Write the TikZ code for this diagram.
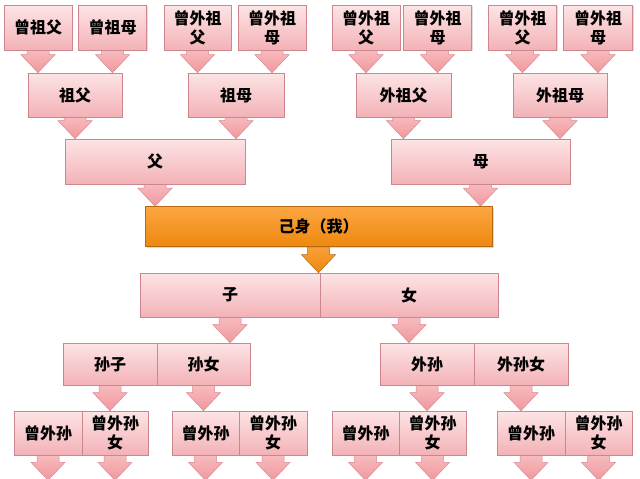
\documentclass[tikz,border=0pt]{standalone}
\usepackage{fontspec}
\setmainfont{Noto Sans CJK SC}
\usetikzlibrary{calc,shadows}
\definecolor{pinktop}{HTML}{FDE4E5}
\definecolor{pinkbot}{HTML}{F3B2B7}
\definecolor{boxline}{HTML}{CD868D}
\definecolor{arrtop}{HTML}{F9C4C6}
\definecolor{arrbot}{HTML}{F0979D}
\definecolor{arrline}{HTML}{DA8A91}
\definecolor{orgtop}{HTML}{FBA642}
\definecolor{orgbot}{HTML}{EE880F}
\definecolor{orgline}{HTML}{B8680F}
\pgfdeclarelayer{bg}
\pgfdeclarelayer{arr}
\pgfsetlayers{bg,arr,main}
\tikzset{
  box/.style={draw=boxline, line width=0.6pt, top color=pinktop, bottom color=pinkbot,
    inner sep=0pt, align=center, font=\fontsize{16}{19}\selectfont\bfseries,
    drop shadow={shadow xshift=1.2pt, shadow yshift=-1.2pt, opacity=0.25}},
  selfbox/.style={draw=orgline, line width=0.6pt, top color=orgtop, bottom color=orgbot,
    inner sep=0pt, align=center, font=\fontsize{16}{19}\selectfont\bfseries,
    drop shadow={shadow xshift=1.5pt, shadow yshift=-1.5pt, opacity=0.3}},
  pinkarrow/.style={draw=arrline, line width=0.5pt, top color=arrtop, bottom color=arrbot},
  orgarrow/.style={draw=orgline, line width=0.5pt, top color=orgtop, bottom color=orgbot},
}
\newcommand\barrow[3]{%
  \path[#3] let \p1=(#1.south), \p2=(#2) in
    (\x1-11pt,\y1+6pt) -- (\x1-11pt,\y2+18pt) -- (\x1-17pt,\y2+18pt) -- (\x1,\y2)
    -- (\x1+17pt,\y2+18pt) -- (\x1+11pt,\y2+18pt) -- (\x1+11pt,\y1+6pt) -- cycle;}
\begin{document}
\begin{tikzpicture}[x=1pt,y=-1pt]
\begin{pgfonlayer}{bg}
\fill[white] (0,0) rectangle (640,479);
\end{pgfonlayer}
\useasboundingbox (0,0) rectangle (640,479);
% row 1
\node[box, minimum width=68pt, minimum height=45pt] (g1) at (38,27.5) {曾祖父};
\node[box, minimum width=68pt, minimum height=45pt] (g2) at (112.5,27.5) {曾祖母};
\node[box, minimum width=67pt, minimum height=45pt] (g3) at (197.5,27.5) {曾外祖\\父};
\node[box, minimum width=68pt, minimum height=45pt] (g4) at (272,27.5) {曾外祖\\母};
\node[box, minimum width=68pt, minimum height=45pt] (g5) at (366,27.5) {曾外祖\\父};
\node[box, minimum width=68pt, minimum height=45pt] (g6) at (437.5,27.5) {曾外祖\\母};
\node[box, minimum width=68pt, minimum height=45pt] (g7) at (522.5,27.5) {曾外祖\\父};
\node[box, minimum width=69pt, minimum height=45pt] (g8) at (598,27.5) {曾外祖\\母};
% row 2
\node[box, minimum width=94pt, minimum height=44pt] (p1) at (75,95) {祖父};
\node[box, minimum width=96pt, minimum height=44pt] (p2) at (236,95) {祖母};
\node[box, minimum width=95pt, minimum height=44pt] (p3) at (403.5,95) {外祖父};
\node[box, minimum width=94pt, minimum height=44pt] (p4) at (560,95) {外祖母};
% row 3
\node[box, minimum width=180pt, minimum height=45pt] (f) at (155,161.5) {父};
\node[box, minimum width=179pt, minimum height=45pt] (m) at (480.5,161.5) {母};
% self
\node[selfbox, minimum width=347pt, minimum height=40pt] (self) at (318.5,226.5) {己身（我）};
% children
\node[box, minimum width=180pt, minimum height=44pt] (c1) at (230,295) {子};
\node[box, minimum width=178pt, minimum height=44pt] (c2) at (409,295) {女};
% grandchildren
\node[box, minimum width=94pt, minimum height=42pt] (k1) at (110,364) {孙子};
\node[box, minimum width=93pt, minimum height=42pt] (k2) at (203.5,364) {孙女};
\node[box, minimum width=94pt, minimum height=42pt] (k3) at (427,364) {外孙};
\node[box, minimum width=94pt, minimum height=42pt] (k4) at (521,364) {外孙女};
% great-grandchildren
\node[box, minimum width=68pt, minimum height=44pt] (b1) at (48,433) {曾外孙};
\node[box, minimum width=66pt, minimum height=44pt] (b2) at (115,433) {曾外孙\\女};
\node[box, minimum width=67pt, minimum height=44pt] (b3) at (205.5,433) {曾外孙};
\node[box, minimum width=68pt, minimum height=44pt] (b4) at (273,433) {曾外孙\\女};
\node[box, minimum width=67pt, minimum height=44pt] (b5) at (365.5,433) {曾外孙};
\node[box, minimum width=67pt, minimum height=44pt] (b6) at (432.5,433) {曾外孙\\女};
\node[box, minimum width=68pt, minimum height=44pt] (b7) at (531,433) {曾外孙};
\node[box, minimum width=67pt, minimum height=44pt] (b8) at (598.5,433) {曾外孙\\女};
\foreach \i in {1,...,8} {\coordinate (e\i) at ($(b\i.south)+(0,25)$);}
\begin{pgfonlayer}{arr}
\barrow{g1}{g1.south |- p1.north}{pinkarrow}
\barrow{g2}{g2.south |- p1.north}{pinkarrow}
\barrow{g3}{g3.south |- p2.north}{pinkarrow}
\barrow{g4}{g4.south |- p2.north}{pinkarrow}
\barrow{g5}{g5.south |- p3.north}{pinkarrow}
\barrow{g6}{g6.south |- p3.north}{pinkarrow}
\barrow{g7}{g7.south |- p4.north}{pinkarrow}
\barrow{g8}{g8.south |- p4.north}{pinkarrow}
\barrow{p1}{p1.south |- f.north}{pinkarrow}
\barrow{p2}{p2.south |- f.north}{pinkarrow}
\barrow{p3}{p3.south |- m.north}{pinkarrow}
\barrow{p4}{p4.south |- m.north}{pinkarrow}
\barrow{f}{f.south |- self.north}{pinkarrow}
\barrow{m}{m.south |- self.north}{pinkarrow}
\barrow{self}{self.south |- c1.north}{orgarrow}
\barrow{c1}{c1.south |- k1.north}{pinkarrow}
\barrow{c2}{c2.south |- k3.north}{pinkarrow}
\barrow{k1}{k1.south |- b2.north}{pinkarrow}
\barrow{k2}{k2.south |- b3.north}{pinkarrow}
\barrow{k3}{k3.south |- b6.north}{pinkarrow}
\barrow{k4}{k4.south |- b7.north}{pinkarrow}
\foreach \i in {1,...,8} {\barrow{b\i}{e\i}{pinkarrow}}
\end{pgfonlayer}
\end{tikzpicture}
\end{document}
